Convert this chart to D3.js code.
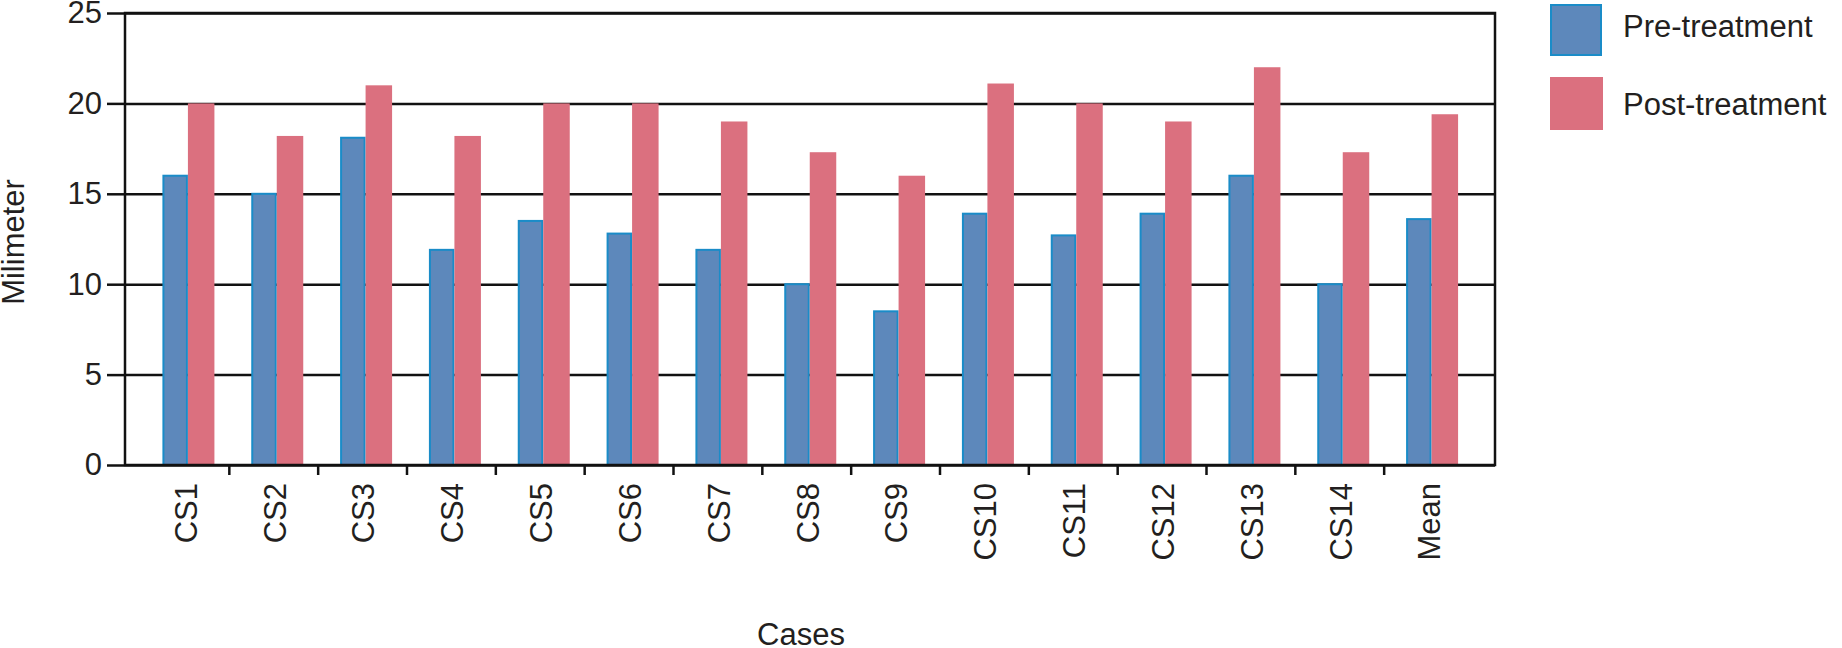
<!DOCTYPE html>
<html>
<head>
<meta charset="utf-8">
<script src="https://cdn.jsdelivr.net/npm/d3@7"></script>
<style>
  body { margin: 0; background: #fff; }
  text { font-family: "Liberation Sans", Arial, sans-serif; fill: #231f20; }
</style>
</head>
<body>
<div id="chart"></div>
<script>
// Data
const cases = ["CS1", "CS2", "CS3", "CS4", "CS5", "CS6", "CS7", "CS8", "CS9", "CS10", "CS11", "CS12", "CS13", "CS14", "Mean"];
const preTreatment = [16, 15, 18.1, 11.9, 13.5, 12.8, 11.9, 10, 8.5, 13.9, 12.7, 13.9, 16, 10, 13.6];
const postTreatment = [20, 18.2, 21, 18.2, 20, 20, 19, 17.3, 16, 21.1, 20, 19, 22, 17.3, 19.4];
const seriesNames = ["Pre-treatment", "Post-treatment"];
const yTicks = [0, 5, 10, 15, 20, 25];

const width = 1842;
const height = 648;
const plot = { left: 125, right: 1495, top: 13, bottom: 465 };
const colors = { pre: "#5d88bb", preStroke: "#1a8cc8", post: "#db707f" };
const fontSize = 31;

const svg = d3
  .select("#chart")
  .append("svg")
  .attr("width", width)
  .attr("height", height);

// Scales
const x = d3.scaleBand().domain(cases).range([143.5, 1476]).paddingInner(0).paddingOuter(0);
const barW = 25.5;
const y = d3.scaleLinear().domain([0, 25]).range([plot.bottom, plot.top]);

// Gridlines
const grid = svg
  .append("g")
  .attr("transform", `translate(${plot.left},0)`)
  .call(
    d3.axisLeft(y)
      .tickValues(yTicks)
      .tickSize(-(plot.right - plot.left))
      .tickFormat("")
  );
grid.select(".domain").remove();
grid.selectAll("line").attr("stroke", "#111").attr("stroke-width", 2.5);

// Bars
const groups = svg
  .selectAll(".case")
  .data(cases)
  .enter()
  .append("g")
  .attr("class", "case");

groups
  .append("rect")
  .attr("x", (d) => x(d) + x.bandwidth() / 2 - barW + 1)
  .attr("y", (d, i) => y(preTreatment[i]))
  .attr("width", barW - 2)
  .attr("height", (d, i) => y(0) - y(preTreatment[i]))
  .attr("fill", colors.pre)
  .attr("stroke", colors.preStroke)
  .attr("stroke-width", 2);

groups
  .append("rect")
  .attr("x", (d) => x(d) + x.bandwidth() / 2)
  .attr("y", (d, i) => y(postTreatment[i]))
  .attr("width", barW + 1)
  .attr("height", (d, i) => y(0) - y(postTreatment[i]))
  .attr("fill", colors.post);

// Frame
svg
  .append("rect")
  .attr("x", plot.left)
  .attr("y", plot.top)
  .attr("width", plot.right - plot.left)
  .attr("height", plot.bottom - plot.top)
  .attr("fill", "none")
  .attr("stroke", "#111")
  .attr("stroke-width", 2.5);

// Y axis
const yAxis = svg
  .append("g")
  .attr("transform", `translate(${plot.left},0)`)
  .call(d3.axisLeft(y).tickValues(yTicks).tickSize(18).tickPadding(5));
yAxis.select(".domain").remove();
yAxis.selectAll("line").attr("stroke", "#111").attr("stroke-width", 2.5);
yAxis.selectAll("text")
  .style("font-size", fontSize + "px")
  .style("font-family", '"Liberation Sans", Arial, sans-serif')
  .attr("fill", "#231f20");

// X axis ticks between categories
svg
  .selectAll(".xtick")
  .data(cases.slice(0, -1))
  .enter()
  .append("line")
  .attr("class", "xtick")
  .attr("x1", (d) => x(d) + x.step() - 3)
  .attr("x2", (d) => x(d) + x.step() - 3)
  .attr("y1", plot.bottom)
  .attr("y2", plot.bottom + 10)
  .attr("stroke", "#111")
  .attr("stroke-width", 2.5);

// X labels (rotated)
svg
  .selectAll(".xlabel")
  .data(cases)
  .enter()
  .append("text")
  .attr("class", "xlabel")
  .attr("transform", (d) => `translate(${x(d) + x.bandwidth() / 2 - 2},483) rotate(-90)`)
  .attr("text-anchor", "end")
  .attr("dy", "0.35em")
  .style("font-size", fontSize + "px")
  .text((d) => d);

// Axis titles
svg
  .append("text")
  .attr("transform", "translate(24,242) rotate(-90)")
  .attr("text-anchor", "middle")
  .style("font-size", fontSize + "px")
  .text("Milimeter");

svg
  .append("text")
  .attr("x", 801)
  .attr("y", 645)
  .attr("text-anchor", "middle")
  .style("font-size", fontSize + "px")
  .text("Cases");

// Legend
const legend = svg
  .selectAll(".legend")
  .data(seriesNames)
  .enter()
  .append("g")
  .attr("class", "legend")
  .attr("transform", (d, i) => `translate(1550,${4 + i * 73})`);

legend
  .append("rect")
  .attr("x", (d, i) => (i === 0 ? 1 : 0))
  .attr("y", (d, i) => (i === 0 ? 1 : 0))
  .attr("width", (d, i) => (i === 0 ? 50 : 53))
  .attr("height", (d, i) => (i === 0 ? 50 : 53))
  .attr("fill", (d, i) => (i === 0 ? colors.pre : colors.post))
  .attr("stroke", (d, i) => (i === 0 ? colors.preStroke : "none"))
  .attr("stroke-width", 2);

legend
  .append("text")
  .attr("x", 73)
  .attr("y", (d, i) => (i === 0 ? 33 : 38))
  .style("font-size", fontSize + "px")
  .text((d) => d);
</script>
</body>
</html>
